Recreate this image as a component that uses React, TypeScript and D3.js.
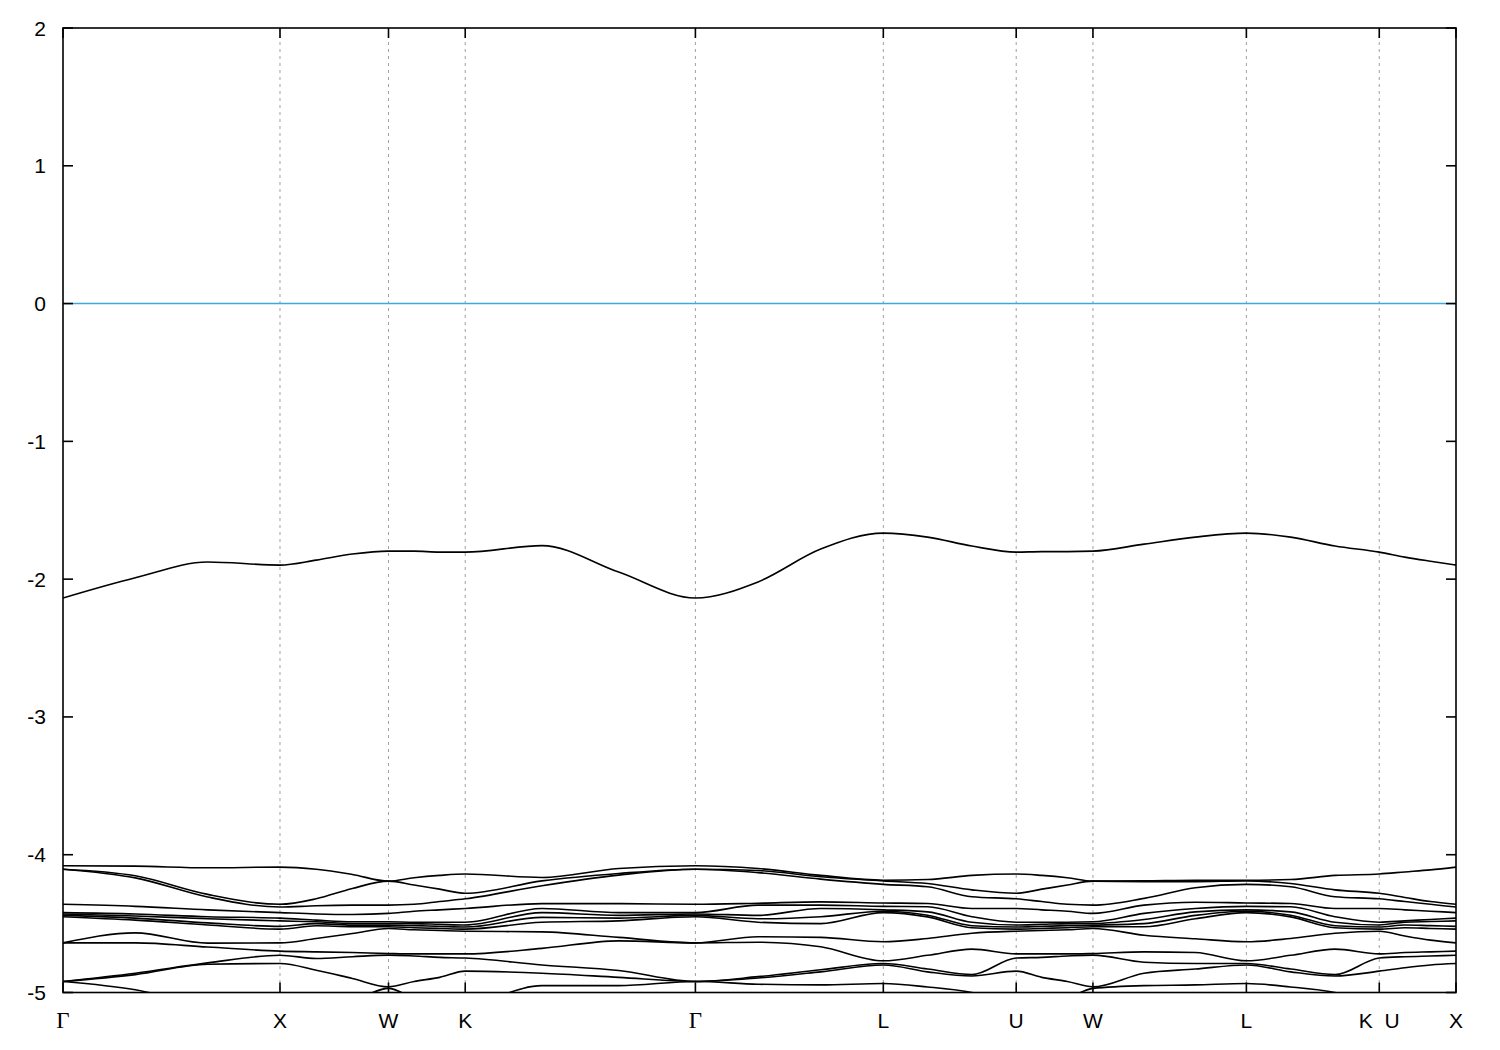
import React from "react";
import * as d3 from "d3";

// ---- data ----
const symLabels = ["Γ", "X", "W", "K", "Γ", "L", "U", "W", "L", "K  U", "X"];
// k-path segment lengths (2π/a units)
const segLengths = [1, 0.5, 0.3536, 1.0607, 0.866, 0.6124, 0.3536, 0.7071, 0.6124, 0.3536];
const yTicks = [-5, -4, -3, -2, -1, 0, 1, 2];
const fermiLevel = 0;

// isolated band near -2 eV, sampled at 0, 1/3, 2/3 of each segment + end
const isolatedBand = [
  -2.137, -1.99, -1.876, -1.898, -1.862, -1.818, -1.797, -1.797, -1.804, -1.804,
  -1.757, -1.949, -2.137, -2.02, -1.782, -1.666, -1.695, -1.76, -1.804, -1.80,
  -1.80, -1.797, -1.746, -1.695, -1.666, -1.695, -1.76, -1.804, -1.84, -1.87, -1.898,
];

// sorted energy levels of the lower band manifold at the same k samples
const lowerLevels = [
  [-4.08, -4.105, -4.105, -4.36, -4.42, -4.43, -4.44, -4.45, -4.64, -4.64, -4.92, -4.92, -4.92],
  [-4.083, -4.153, -4.168, -4.375, -4.43, -4.445, -4.46, -4.475, -4.567, -4.64, -4.86, -4.87, -4.98],
  [-4.095, -4.288, -4.307, -4.40, -4.45, -4.465, -4.495, -4.51, -4.642, -4.67, -4.785, -4.795, -5.1],
  [-4.09, -4.36, -4.38, -4.42, -4.46, -4.48, -4.52, -4.54, -4.64, -4.70, -4.73, -4.79, -5.15],
  [-4.105, -4.32, -4.37, -4.43, -4.475, -4.487, -4.50, -4.516, -4.608, -4.705, -4.753, -4.838, -5.1],
  [-4.143, -4.245, -4.366, -4.434, -4.487, -4.499, -4.511, -4.523, -4.572, -4.71, -4.74, -4.898, -5.06],
  [-4.192, -4.192, -4.366, -4.426, -4.487, -4.499, -4.511, -4.523, -4.535, -4.717, -4.729, -4.959, -4.97],
  [-4.167, -4.22, -4.36, -4.41, -4.49, -4.50, -4.515, -4.53, -4.545, -4.72, -4.735, -4.92, -5.04],
  [-4.15, -4.25, -4.34, -4.40, -4.49, -4.505, -4.52, -4.535, -4.55, -4.72, -4.745, -4.89, -5.07],
  [-4.14, -4.28, -4.32, -4.39, -4.49, -4.51, -4.525, -4.54, -4.555, -4.72, -4.75, -4.845, -5.08],
  [-4.165, -4.19, -4.225, -4.355, -4.39, -4.42, -4.455, -4.49, -4.56, -4.68, -4.80, -4.86, -4.95],
  [-4.10, -4.136, -4.148, -4.355, -4.42, -4.44, -4.46, -4.48, -4.60, -4.625, -4.84, -4.89, -4.95],
  [-4.08, -4.105, -4.105, -4.36, -4.42, -4.43, -4.44, -4.45, -4.64, -4.64, -4.92, -4.92, -4.92],
  [-4.10, -4.115, -4.13, -4.352, -4.366, -4.44, -4.465, -4.49, -4.595, -4.635, -4.885, -4.895, -4.94],
  [-4.15, -4.16, -4.177, -4.342, -4.366, -4.39, -4.45, -4.50, -4.60, -4.668, -4.835, -4.85, -4.945],
  [-4.185, -4.19, -4.215, -4.35, -4.375, -4.40, -4.41, -4.42, -4.632, -4.77, -4.79, -4.80, -4.935],
  [-4.18, -4.209, -4.233, -4.354, -4.378, -4.415, -4.439, -4.451, -4.608, -4.73, -4.83, -4.85, -4.96],
  [-4.15, -4.255, -4.305, -4.39, -4.45, -4.49, -4.515, -4.53, -4.57, -4.685, -4.87, -4.88, -5.0],
  [-4.14, -4.28, -4.32, -4.39, -4.49, -4.51, -4.525, -4.54, -4.555, -4.72, -4.75, -4.845, -5.08],
  [-4.15, -4.25, -4.34, -4.40, -4.49, -4.505, -4.52, -4.535, -4.55, -4.72, -4.745, -4.89, -5.07],
  [-4.167, -4.22, -4.36, -4.41, -4.49, -4.50, -4.515, -4.53, -4.545, -4.72, -4.735, -4.92, -5.04],
  [-4.192, -4.192, -4.366, -4.426, -4.487, -4.499, -4.511, -4.523, -4.535, -4.717, -4.729, -4.959, -4.97],
  [-4.19, -4.195, -4.317, -4.366, -4.426, -4.47, -4.50, -4.523, -4.584, -4.705, -4.78, -4.86, -4.95],
  [-4.185, -4.195, -4.24, -4.345, -4.39, -4.415, -4.44, -4.465, -4.61, -4.71, -4.79, -4.83, -4.945],
  [-4.185, -4.19, -4.215, -4.35, -4.375, -4.40, -4.41, -4.42, -4.632, -4.77, -4.79, -4.80, -4.935],
  [-4.18, -4.209, -4.233, -4.354, -4.378, -4.415, -4.439, -4.451, -4.608, -4.73, -4.83, -4.85, -4.96],
  [-4.15, -4.255, -4.305, -4.39, -4.45, -4.49, -4.515, -4.53, -4.57, -4.685, -4.87, -4.88, -5.0],
  [-4.14, -4.28, -4.32, -4.39, -4.49, -4.51, -4.525, -4.54, -4.555, -4.72, -4.75, -4.845, -5.08],
  [-4.125, -4.31, -4.34, -4.40, -4.48, -4.49, -4.51, -4.53, -4.59, -4.71, -4.74, -4.82, -5.1],
  [-4.11, -4.34, -4.36, -4.41, -4.47, -4.485, -4.515, -4.535, -4.62, -4.705, -4.735, -4.80, -5.12],
  [-4.09, -4.36, -4.38, -4.42, -4.46, -4.48, -4.52, -4.54, -4.64, -4.70, -4.73, -4.79, -5.15],
];

// ---- layout ----
const W = 1500;
const H = 1050;
const left = 63;
const right = 1456;
const top = 28;
const bottom = 992.5;
const sans = "'Liberation Sans', Arial, sans-serif";
const serif = "'Liberation Serif', 'Times New Roman', serif";

export default function App() {
  const kNodes = [0];
  segLengths.forEach((l) => kNodes.push(kNodes[kNodes.length - 1] + l));
  const kGrid: number[] = [];
  for (let s = 0; s < segLengths.length; s++) {
    [0, 1 / 3, 2 / 3].forEach((f) => kGrid.push(kNodes[s] + f * segLengths[s]));
  }
  kGrid.push(kNodes[kNodes.length - 1]);

  const x = d3.scaleLinear().domain([0, kNodes[kNodes.length - 1]]).range([left, right]);
  const y = d3.scaleLinear().domain([-5, 2]).range([bottom, top]);

  const line = d3
    .line<[number, number]>()
    .x((d) => x(d[0]))
    .y((d) => y(d[1]))
    .curve(d3.curveMonotoneX);

  const nBands = lowerLevels[0].length;
  const bands: [number, number][][] = [];
  const sortedCols = lowerLevels.map((col) => col.slice().sort((a, b) => b - a));
  for (let b = 0; b < nBands; b++) {
    bands.push(kGrid.map((k, i) => [k, sortedCols[i][b]]));
  }
  const iso: [number, number][] = kGrid.map((k, i) => [k, isolatedBand[i]]);

  const tickLen = 10;

  return (
    <div style={{ position: "absolute", left: 0, top: 0 }}>
      <svg width={W} height={H} style={{ display: "block", background: "#fff" }}>
        <defs>
          <clipPath id="plotClip">
            <rect x={left} y={top} width={right - left} height={bottom - top} />
          </clipPath>
        </defs>

        {/* vertical dashed lines at high-symmetry points */}
        {kNodes.slice(1, -1).map((k, i) => (
          <line
            key={"g" + i}
            x1={x(k)}
            x2={x(k)}
            y1={top}
            y2={bottom}
            stroke="#a0a0a0"
            strokeWidth={1}
            strokeDasharray="3,4"
          />
        ))}

        {/* Fermi level */}
        <line
          x1={left}
          x2={right}
          y1={y(fermiLevel)}
          y2={y(fermiLevel)}
          stroke="#3fa6e0"
          strokeWidth={1.5}
        />

        <g clipPath="url(#plotClip)" fill="none" stroke="#000" strokeWidth={1.6}>
          <path d={line(iso) || ""} />
          {bands.map((bd, i) => (
            <path key={"b" + i} d={line(bd) || ""} />
          ))}
        </g>

        {/* frame */}
        <rect
          x={left}
          y={top}
          width={right - left}
          height={bottom - top}
          fill="none"
          stroke="#000"
          strokeWidth={1.6}
        />

        {/* y ticks */}
        {yTicks.map((t) => (
          <g key={"y" + t}>
            <line x1={left} x2={left + tickLen} y1={y(t)} y2={y(t)} stroke="#000" strokeWidth={1.6} />
            <line x1={right - tickLen} x2={right} y1={y(t)} y2={y(t)} stroke="#000" strokeWidth={1.6} />
            <text
              x={46}
              y={y(t)}
              textAnchor="end"
              dominantBaseline="central"
              fontFamily={sans}
              fontSize={21}
              fill="#000"
            >
              {t}
            </text>
          </g>
        ))}

        {/* x ticks & labels */}
        {kNodes.map((k, i) => (
          <g key={"x" + i}>
            <line x1={x(k)} x2={x(k)} y1={bottom} y2={bottom - tickLen} stroke="#000" strokeWidth={1.6} />
            <line x1={x(k)} x2={x(k)} y1={top} y2={top + tickLen} stroke="#000" strokeWidth={1.6} />
            <text
              x={x(k)}
              y={1028}
              textAnchor="middle"
              fontFamily={symLabels[i] === "Γ" ? serif : sans}
              fontSize={symLabels[i] === "Γ" ? 23 : 21}
              fill="#000"
              style={{ whiteSpace: "pre" }}
            >
              {symLabels[i]}
            </text>
          </g>
        ))}
      </svg>
    </div>
  );
}
